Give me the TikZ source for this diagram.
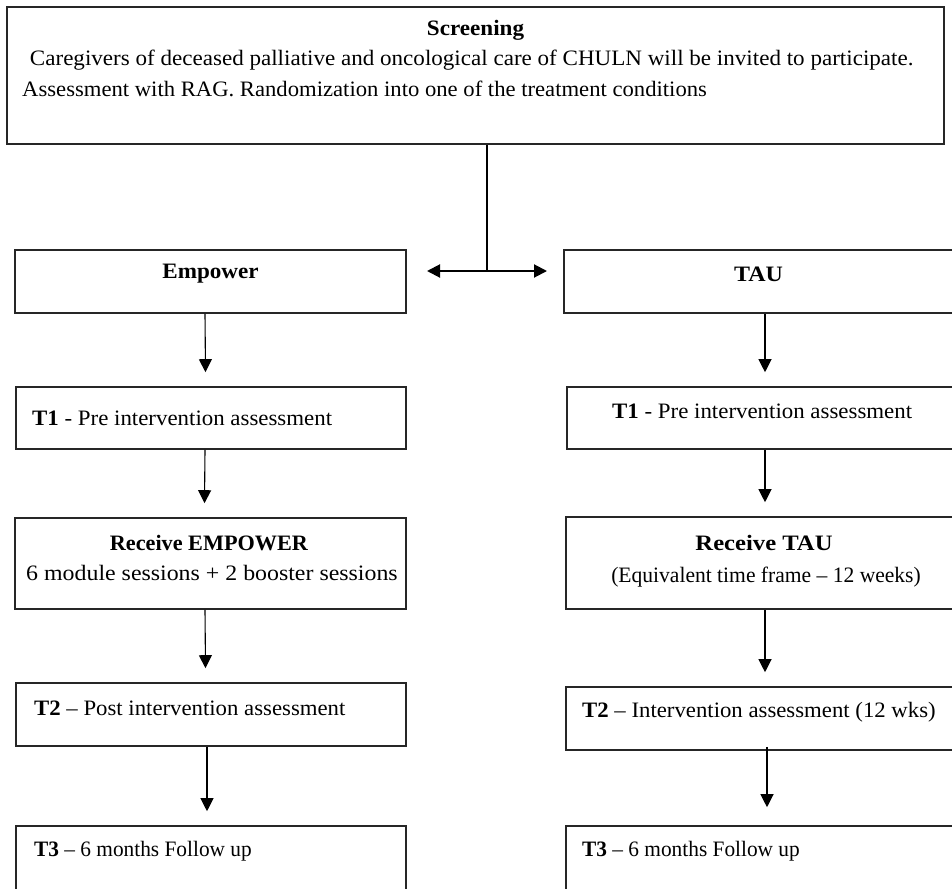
\documentclass[tikz,border=0pt]{standalone}
\usepackage{graphicx}
\usepackage{fontspec}
\setmainfont{Liberation Serif}
\usetikzlibrary{arrows.meta,calc}
\tikzset{
  box/.style={draw=black!85, line width=1.6pt, rectangle, inner sep=0pt, fill=none},
  txt/.style={inner sep=0pt, font=\fontsize{22}{22}\selectfont},
  ltxt/.style={txt, anchor=west},
  arr/.style={draw=black, line width=1.1pt, -{Triangle[length=13pt,width=13pt]}},
  harr/.style={draw=black, line width=2pt, {Triangle[length=13pt,width=13pt]}-{Triangle[length=13pt,width=13pt]}},
}
\newcommand{\boxat}[5]{\node[box, minimum width=#4pt, minimum height=#5pt] (#1) at (#2,#3) {};}
\newcommand{\sx}[2]{\scalebox{#1}[1]{#2}}
\begin{document}
\begin{tikzpicture}[x=1pt,y=-1pt]
\useasboundingbox (0,0) rectangle (952,888);
\clip (0,0) rectangle (952,888);
% boxes: name, cx, cy, w, h
\boxat{scr}{475.5}{75.5}{937}{137}
\boxat{emp}{210.5}{281.5}{391}{63}
\boxat{tau}{762}{281.5}{396}{63}
\boxat{tal}{211}{418}{390}{62}
\boxat{tar}{763.5}{418}{393}{62}
\boxat{rel}{210.5}{563.5}{391}{91}
\boxat{rer}{763}{563}{394}{92}
\boxat{tbl}{211}{714.5}{390}{63}
\boxat{tbr}{763}{718.5}{394}{63}
\boxat{tcl}{211}{863}{390}{74}
\boxat{tcr}{763}{863}{394}{74}
% texts
\node[txt] (scrT) at (475.5,30) {\sx{1.05}{\textbf{Screening}}};
\node[ltxt] (scr1) at (24,60) {\sx{1.048}{\ Caregivers of deceased palliative and oncological care of CHULN will be invited to participate.}};
\node[ltxt] (scr2) at (22,89) {\sx{1.03}{Assessment with RAG. Randomization into one of the treatment conditions}};
\node[txt] (empT) at (210.5,274) {\sx{1.05}{\textbf{Empower}}};
\node[txt] (tauT) at (758.5,274) {\sx{1.09}{\textbf{TAU}}};
\node[ltxt] (talT) at (32,418) {\sx{1.04}{\textbf{T1} - Pre intervention assessment}};
\node[ltxt] (tarT) at (612,411) {\sx{1.04}{\textbf{T1} - Pre intervention assessment}};
\node[txt] (relT1) at (209,543) {\sx{1.01}{\textbf{Receive EMPOWER}}};
\node[txt] (relT2) at (212,573) {\sx{1.085}{6 module sessions + 2 booster sessions}};
\node[txt] (rerT1) at (764,543) {\sx{1.12}{\textbf{Receive TAU}}};
\node[txt] (rerT2) at (766,577) {\sx{0.98}{(Equivalent time frame – 12 weeks)}};
\node[ltxt] (tblT) at (34,708) {\sx{1.035}{\textbf{T2} – Post intervention assessment}};
\node[ltxt] (tbrT) at (582,712) {\sx{1.035}{\textbf{T2} – Intervention assessment (12 wks)}};
\node[ltxt] (tclT) at (34,851) {\sx{0.97}{\textbf{T3} – 6 months Follow up}};
\node[ltxt] (tcrT) at (582,851) {\sx{0.97}{\textbf{T3} – 6 months Follow up}};
% split connector
\coordinate (split) at (487,271);
\coordinate (spL) at (427,271);
\coordinate (spR) at (547,271);
\draw[line width=1.3pt] (scr.south -| split) -- (split);
\draw[harr] (spL) -- (spR);
% left column
\draw[arr] ([xshift=-5.5pt]emp.south) -- ([xshift=-5.5pt,yshift=14pt]tal.north);
\draw[arr] ([xshift=-6pt]tal.south) -- ([xshift=-6pt,yshift=14pt]rel.north);
\draw[arr] ([xshift=-5.5pt]rel.south) -- ([xshift=-5.5pt,yshift=14pt]tbl.north);
\draw[arr] ([xshift=-4pt]tbl.south) -- ([xshift=-4pt,yshift=14pt]tcl.north);
% right column
\draw[arr] ([xshift=3pt]tau.south) -- ([xshift=3pt,yshift=14pt]tar.north -| tau.south);
\draw[arr] ([xshift=1.5pt]tar.south) -- ([xshift=1.5pt,yshift=14pt]rer.north -| tar.south);
\draw[arr] ([xshift=2pt]rer.south) -- ([xshift=2pt,yshift=14pt]tbr.north);
\draw[arr] ([xshift=4pt,yshift=4pt]tbr.south) -- ([xshift=4pt,yshift=18pt]tcr.north);
\end{tikzpicture}
\end{document}
